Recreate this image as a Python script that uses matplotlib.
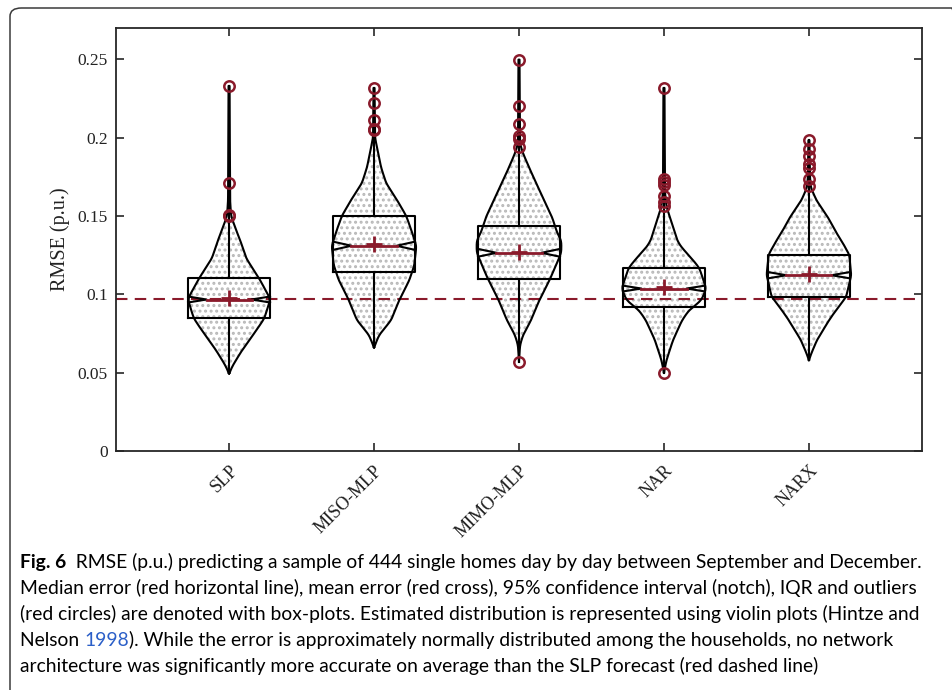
import matplotlib
matplotlib.use('Agg')
import matplotlib.pyplot as plt
from matplotlib.patches import FancyBboxPatch
import numpy as np

# ---- data ----
groups = ['SLP', 'MISO-MLP', 'MIMO-MLP', 'NAR', 'NARX']
n_homes = 444

q1 = [0.0846, 0.1144, 0.1101, 0.0920, 0.0984]
median = [0.0967, 0.1310, 0.1265, 0.1037, 0.1122]
q3 = [0.1103, 0.1499, 0.1435, 0.1169, 0.1254]
mean = [0.0975, 0.1324, 0.1271, 0.1048, 0.1127]
data_min = [0.0495, 0.0661, 0.0570, 0.0500, 0.0580]
data_max = [0.2330, 0.2317, 0.2498, 0.2317, 0.1983]

out_slp = [0.2330, 0.1711, 0.1508, 0.1500]
out_miso = [0.2317, 0.2221, 0.2111, 0.2058, 0.2050]
out_mimo = [0.2498, 0.2205, 0.2090, 0.2009, 0.1990, 0.1941, 0.0570]
out_nar = [0.2317, 0.1739, 0.1718, 0.1696, 0.1626, 0.1590, 0.1563, 0.0500]
out_narx = [0.1983, 0.1926, 0.1886, 0.1835, 0.1807, 0.1739, 0.1692]

# violin outline: RMSE level and relative density (half width)
vio_y_slp = [0.0495, 0.055, 0.0644, 0.077, 0.0846, 0.097, 0.110, 0.123, 0.1346, 0.141, 0.150, 0.160, 0.233]
vio_w_slp = [0, 4, 13, 27, 35, 41, 30, 17, 11, 7, 2, 1, 0.5]
vio_y_miso = [0.0661, 0.074, 0.0835, 0.0963, 0.109, 0.1186, 0.131, 0.141, 0.150, 0.160, 0.171, 0.181, 0.192, 0.200, 0.2317]
vio_w_miso = [0, 5, 17, 25, 35, 40, 42, 37, 32, 23, 12, 7, 3.5, 1, 0.5]
vio_y_mimo = [0.057, 0.0676, 0.074, 0.0835, 0.096, 0.110, 0.1265, 0.1346, 0.139, 0.149, 0.160, 0.171, 0.181, 0.190, 0.196, 0.2498]
vio_w_mimo = [0, 1, 4, 12, 20, 31, 42, 42, 38, 33, 25, 17, 10, 4, 1, 0.5]
vio_y_nar = [0.050, 0.058, 0.0708, 0.0835, 0.090, 0.096, 0.1037, 0.117, 0.124, 0.1303, 0.1346, 0.139, 0.149, 0.156, 0.165, 0.2317]
vio_w_nar = [0, 2.5, 9, 18, 25, 37, 42, 35, 26, 17, 13, 11, 6, 2.5, 1, 0.5]
vio_y_narx = [0.058, 0.0625, 0.0708, 0.0835, 0.090, 0.0984, 0.1122, 0.1254, 0.1346, 0.139, 0.149, 0.160, 0.168, 0.175, 0.1983]
vio_w_narx = [0, 2.5, 8, 20, 27, 37, 42, 40, 32, 27.5, 19, 7.5, 2, 1, 0.5]

slp_forecast = 0.097

outliers = [out_slp, out_miso, out_mimo, out_nar, out_narx]
vio_y = [vio_y_slp, vio_y_miso, vio_y_mimo, vio_y_nar, vio_y_narx]
vio_w = [vio_w_slp, vio_w_miso, vio_w_mimo, vio_w_nar, vio_w_narx]

red = '#8a1a2b'
serif = 'Liberation Serif'
plt.rcParams['hatch.color'] = '#b8b8b8'
plt.rcParams['hatch.linewidth'] = 1.4

fig = plt.figure(figsize=(9.53, 6.90), dpi=100)
ax = fig.add_axes([116/953, 1 - 451/690, (922-116)/953, (451-28)/690])

w_scale = 0.285 / 41.0   # relative density -> x units
box_hw = 0.283

for i, g in enumerate(groups):
    c = i + 1
    yy = np.linspace(vio_y[i][0], vio_y[i][-1], 600)
    ww = np.interp(yy, vio_y[i], vio_w[i])
    k = np.hanning(31)
    k = k / k.sum()
    ww = np.convolve(np.pad(ww, 15, mode='edge'), k, mode='valid') * w_scale
    ww[0] = 0
    ax.fill_betweenx(yy, c - ww, c + ww, facecolor='none', edgecolor='#b8b8b8',
                     hatch='...', linewidth=0, zorder=1)
    ax.plot(np.r_[c - ww, (c + ww)[::-1], c - ww[0]], np.r_[yy, yy[::-1], yy[0]],
            color='black', lw=1.5, zorder=3)

    # box with notch
    nh = 1.57 * (q3[i] - q1[i]) / np.sqrt(n_homes)
    inset = 0.45 * box_hw
    ax.plot([c - box_hw, c + box_hw, c + box_hw, c - box_hw, c - box_hw],
            [q1[i], q1[i], q3[i], q3[i], q1[i]], color='black', lw=1.5, zorder=4)
    for s in (-1, 1):
        ax.plot([c + s*box_hw, c + s*(box_hw - inset), c + s*box_hw],
                [median[i] + nh, median[i], median[i] - nh], color='black', lw=1.5, zorder=4)
    # whiskers
    ax.plot([c, c], [q3[i], data_max[i]], color='black', lw=1.5, zorder=4)
    ax.plot([c, c], [data_min[i], q1[i]], color='black', lw=1.5, zorder=4)
    # median, mean, outliers
    ax.plot([c - (box_hw - inset), c + (box_hw - inset)], [median[i], median[i]],
            color=red, lw=2, zorder=5)
    ax.plot([c], [mean[i]], marker='+', ms=12, mew=2, color=red, zorder=6)
    ax.plot([c]*len(outliers[i]), outliers[i], ls='none', marker='o', ms=7.5,
            mfc='none', mec=red, mew=1.8, zorder=6)

ax.axhline(slp_forecast, color=red, lw=1.5, dashes=(5.5, 3.5), zorder=2)

ax.set_xlim(0.22, 5.78)
ax.set_ylim(0, 0.27)
ax.set_xticks(range(1, 6))
ax.set_xticklabels(groups, rotation=45, ha='right', va='top', rotation_mode='anchor',
                   fontsize=13, family=serif, color='#222222')
ax.set_yticks([0, 0.05, 0.1, 0.15, 0.2, 0.25])
ax.set_yticklabels(['0', '0.05', '0.1', '0.15', '0.2', '0.25'], fontsize=12.5,
                   family=serif, color='#222222')
ax.tick_params(direction='in', length=6, width=1.2, color='#262626',
               top=True, right=True, pad=6)
ax.tick_params(axis='x', pad=8)
for sp in ax.spines.values():
    sp.set_linewidth(1.3)
    sp.set_color('#262626')
ax.set_ylabel('RMSE (p.u.)', fontsize=14.5, family=serif, color='#222222', labelpad=5)

# frame round the figure panel
frame = FancyBboxPatch((10/953, -0.05), 1.0, 1 - 8/690 + 0.05,
                       boxstyle='round,pad=0,rounding_size=0.012',
                       transform=fig.transFigure, fill=False, ec='#3a3a3a', lw=1.1)
fig.patches.append(frame)

# caption
cap_font = 'Lato'
cap_lines = [
    [('Fig. 6', 'bold', 'black'), ('  RMSE (p.u.) predicting a sample of 444 single homes day by day between September and December.', 'normal', 'black')],
    [('Median error (red horizontal line), mean error (red cross), 95% confidence interval (notch), IQR and outliers', 'normal', 'black')],
    [('(red circles) are denoted with box-plots. Estimated distribution is represented using violin plots (Hintze and', 'normal', 'black')],
    [('Nelson ', 'normal', 'black'), ('1998', 'normal', '#2b5fc8'), ('). While the error is approximately normally distributed among the households, no network', 'normal', 'black')],
    [('architecture was significantly more accurate on average than the SLP forecast (red dashed line)', 'normal', 'black')],
]
renderer = fig.canvas.get_renderer()
probe = fig.text(0, 0, cap_lines[0][0][0] + cap_lines[0][1][0], fontsize=12, family=cap_font)
pw = probe.get_window_extent(renderer).width
probe.remove()
cap_size = 12 * 902.0 / pw

for li, line in enumerate(cap_lines):
    x = 20.0
    ybase = 568 + 26 * li
    for txt, wt, col in line:
        t = fig.text(x / 953, 1 - ybase / 690, txt, fontsize=cap_size, family=cap_font,
                     weight=wt, color=col, va='baseline', ha='left')
        x += t.get_window_extent(renderer).width

fig.savefig('out.png', dpi=100)
